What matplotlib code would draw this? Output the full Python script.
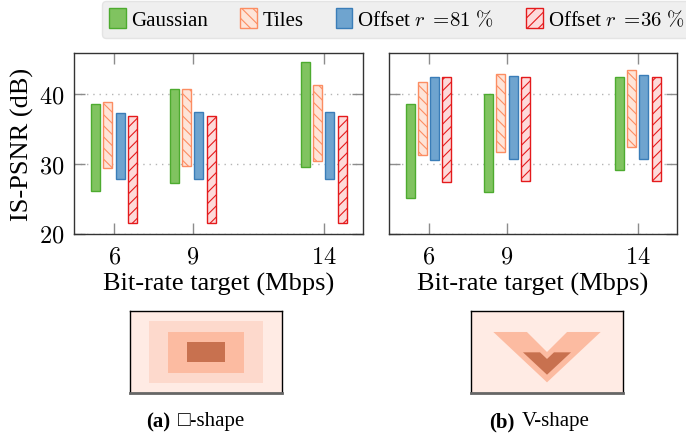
import numpy as np
import matplotlib
matplotlib.use('Agg')
import matplotlib.pyplot as plt
from matplotlib.patches import Rectangle, Polygon

plt.rcParams['font.family'] = ['Liberation Serif', 'DejaVu Sans']
plt.rcParams['mathtext.fontset'] = 'cm'
plt.rcParams['hatch.linewidth'] = 0.8

# bit-rate targets (Mbps)
rates = [6, 9, 14]
yticks = [20, 30, 40]

# square shape: min / max IS-PSNR per method
sq_gauss_lo = [26.1, 27.3, 29.6]
sq_gauss_hi = [38.6, 40.7, 44.6]
sq_tiles_lo = [29.4, 29.8, 30.5]
sq_tiles_hi = [38.9, 40.8, 41.3]
sq_off81_lo = [27.9, 27.9, 27.9]
sq_off81_hi = [37.3, 37.5, 37.5]
sq_off36_lo = [21.6, 21.6, 21.6]
sq_off36_hi = [36.9, 36.9, 36.9]

# V shape
v_gauss_lo = [25.1, 26.0, 29.2]
v_gauss_hi = [38.6, 40.1, 42.4]
v_tiles_lo = [31.3, 31.7, 32.4]
v_tiles_hi = [41.7, 42.9, 43.5]
v_off81_lo = [30.6, 30.7, 30.8]
v_off81_hi = [42.4, 42.6, 42.7]
v_off36_lo = [27.5, 27.6, 27.6]
v_off36_hi = [42.5, 42.5, 42.5]

labels = ['Gaussian', 'Tiles', r'Offset $r$ $=\!81\;\%$', r'Offset $r$ $=\!36\;\%$']
faces = ['#80c360', '#fee4d8', '#6fa4cf', '#fddada']
edges = ['#4dab2f', '#fc8d62', '#3a7db8', '#e41a1c']
hatches = [None, '\\\\\\', None, '///']
offsets = [-0.70, -0.234, 0.234, 0.70]
width = 0.345

fig = plt.figure(figsize=(6.86, 4.39), dpi=100)
ax1 = fig.add_axes([74/686, 1-235/439, 289/686, 181/439])
ax2 = fig.add_axes([388.5/686, 1-235/439, 288.5/686, 181/439])

def draw(ax, lows, highs):
    x = np.array(rates, dtype=float)
    for i in range(4):
        lo = np.array(lows[i])
        hi = np.array(highs[i])
        ax.bar(x + offsets[i], hi - lo, bottom=lo, width=width,
               color=faces[i], edgecolor=edges[i], hatch=hatches[i],
               linewidth=1.0, label=labels[i], zorder=3)
    ax.set_xlim(4.47, 15.5)
    ax.set_ylim(20, 45.9)
    ax.set_xticks(rates, labels=['$%d$' % r for r in rates])
    ax.set_yticks(yticks, labels=['$%d$' % t for t in yticks])
    ax.tick_params(direction='in', length=8, width=1.0, color='#8c8c8c',
                   top=True, right=True, labelsize=17.5, pad=7)
    ax.tick_params(axis='x', pad=9)
    ax.yaxis.grid(True, color='#b5b5b5', linestyle=(0, (1, 3.5)), linewidth=1.0)
    ax.set_axisbelow(True)
    for s in ax.spines.values():
        s.set_color('#333333')
        s.set_linewidth(1.0)
    ax.set_xlabel('Bit-rate target (Mbps)', fontsize=19, labelpad=3)

draw(ax1, [sq_gauss_lo, sq_tiles_lo, sq_off81_lo, sq_off36_lo],
     [sq_gauss_hi, sq_tiles_hi, sq_off81_hi, sq_off36_hi])
draw(ax2, [v_gauss_lo, v_tiles_lo, v_off81_lo, v_off36_lo],
     [v_gauss_hi, v_tiles_hi, v_off81_hi, v_off36_hi])
ax2.tick_params(labelleft=False)
ax1.set_ylabel('IS-PSNR (dB)', fontsize=19)
ax1.yaxis.set_label_coords(-0.14, 0.5)

# legend on top
handles, labs = ax1.get_legend_handles_labels()
leg = fig.legend(handles, labs, loc='upper left', ncol=4,
                 bbox_to_anchor=(102/686, 1-2/439), borderaxespad=0,
                 fontsize=15, borderpad=0.35, handlelength=0.8, handleheight=1.1,
                 handletextpad=0.25, columnspacing=1.55, fancybox=True,
                 framealpha=1)
leg.get_frame().set_facecolor('#efefef')
leg.get_frame().set_edgecolor('#e4e4e4')

# little shape sketches below
bg = '#ffebe4'
shades = ['#fdd9cc', '#fcbba1', '#c8714f']

def sketch_box(ax):
    ax.set_xlim(0, 1)
    ax.set_ylim(1, 0)
    ax.set_facecolor(bg)
    ax.set_xticks([])
    ax.set_yticks([])
    for s in ax.spines.values():
        s.set_linewidth(1.0)
        s.set_color('black')
    ax.spines['bottom'].set_color('#666666')
    ax.spines['bottom'].set_linewidth(2.0)

sa = fig.add_axes([130/686, 1-394/439, 152/686, 82/439])
sketch_box(sa)
for k in range(3):
    m = 0.125 * (k + 1)
    sa.add_patch(Rectangle((m, m), 1 - 2*m, 1 - 2*m, color=shades[k], lw=0))

sb = fig.add_axes([471/686, 1-394/439, 152/686, 82/439])
sketch_box(sb)
sb.add_patch(Polygon([(0.147, 0.256), (0.368, 0.256), (0.5, 0.5), (0.632, 0.256),
                      (0.853, 0.256), (0.5, 0.87)], color=shades[1], lw=0))
sb.add_patch(Polygon([(0.342, 0.504), (0.454, 0.504), (0.5, 0.585), (0.546, 0.504),
                      (0.658, 0.504), (0.5, 0.777)], color=shades[2], lw=0))

# captions
cy = 1 - 422/439
fig.text(170/686, cy, '(a)', weight='bold', ha='right', va='center', fontsize=15)
fig.text(178/686, cy, '□-shape', ha='left', va='center', fontsize=15)
fig.text(515/686, cy, '(b)', weight='bold', ha='right', va='center', fontsize=15)
fig.text(522/686, cy, 'V-shape', ha='left', va='center', fontsize=15)

fig.savefig('out.png', dpi=100)
